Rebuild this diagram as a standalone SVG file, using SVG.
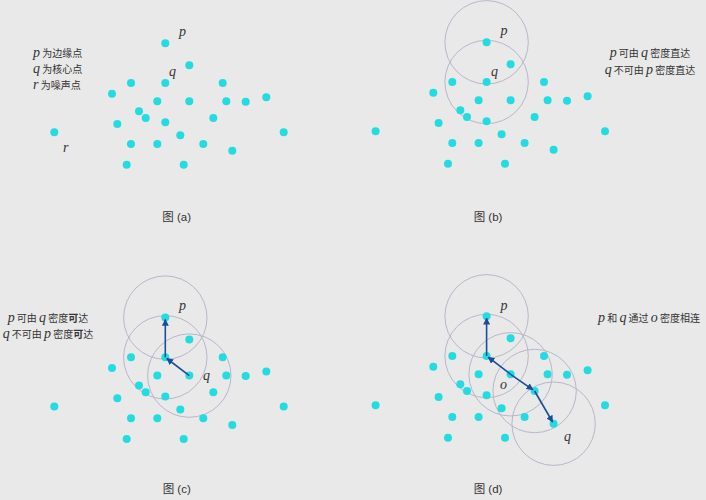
<svg xmlns="http://www.w3.org/2000/svg" xmlns:xlink="http://www.w3.org/1999/xlink" width="706" height="500" viewBox="0 0 706 500">
<style>
.dot{fill:#22dcdf}
.ring{fill:none;stroke:#b7b7cc;stroke-width:1}
.arr{stroke:#1b4c9a;stroke-width:1.6;fill:none;marker-end:url(#ah)}
.m{font-family:"Liberation Serif","DejaVu Serif",serif;font-style:italic;font-size:14px;fill:#333}
.t{font-family:"Noto Sans CJK SC","Noto Sans",sans-serif;font-size:10px;fill:#333}
.cap{font-family:"Liberation Sans","Noto Sans CJK SC",sans-serif;font-size:11.5px;fill:#333;text-anchor:middle}
.b{font-weight:700}
</style>
<defs>
<marker id="ah" viewBox="0 0 10 10" refX="9" refY="5" markerWidth="7" markerHeight="7" markerUnits="userSpaceOnUse" orient="auto">
<path d="M0,0 L10,5 L0,10 z" fill="#1b4c9a"/>
</marker>
<g id="pts">
<circle class="dot" cx="165.3" cy="43.3" r="4"/>
<circle class="dot" cx="189.3" cy="65.3" r="4"/>
<circle class="dot" cx="131" cy="83" r="4"/>
<circle class="dot" cx="165.3" cy="83" r="4"/>
<circle class="dot" cx="222.7" cy="83" r="4"/>
<circle class="dot" cx="112" cy="93.7" r="4"/>
<circle class="dot" cx="157.3" cy="101.3" r="4"/>
<circle class="dot" cx="189.3" cy="101.3" r="4"/>
<circle class="dot" cx="226.3" cy="101.3" r="4"/>
<circle class="dot" cx="245.7" cy="101.7" r="4"/>
<circle class="dot" cx="266.3" cy="97.3" r="4"/>
<circle class="dot" cx="139" cy="111.3" r="4"/>
<circle class="dot" cx="145.7" cy="118" r="4"/>
<circle class="dot" cx="165.3" cy="122.3" r="4"/>
<circle class="dot" cx="213.3" cy="118" r="4"/>
<circle class="dot" cx="117.3" cy="124" r="4"/>
<circle class="dot" cx="54.3" cy="132.3" r="4"/>
<circle class="dot" cx="180.3" cy="135.3" r="4"/>
<circle class="dot" cx="283.7" cy="132.3" r="4"/>
<circle class="dot" cx="131" cy="144" r="4"/>
<circle class="dot" cx="157.3" cy="144" r="4"/>
<circle class="dot" cx="203.3" cy="144" r="4"/>
<circle class="dot" cx="232.3" cy="150.7" r="4"/>
<circle class="dot" cx="126.7" cy="164.7" r="4"/>
<circle class="dot" cx="183.7" cy="164.7" r="4"/>
</g>
</defs>
<rect width="706" height="500" fill="#e9e9e9"/>

<g id="panel-a">
<use xlink:href="#pts" href="#pts"/>
<text class="m" x="179" y="36">p</text>
<text class="m" x="169" y="76">q</text>
<text class="m" x="63" y="152">r</text>
<text class="t" x="33" y="57"><tspan class="m">p</tspan> 为边缘点</text>
<text class="t" x="33" y="73"><tspan class="m">q</tspan> 为核心点</text>
<text class="t" x="33" y="89"><tspan class="m">r</tspan> 为噪声点</text>
<text class="cap" x="176.7" y="220.5">图 (a)</text>
</g>

<g id="panel-b">
<circle class="ring" cx="486.6" cy="42.3" r="41.7"/>
<circle class="ring" cx="486.6" cy="82" r="41.7"/>
<use xlink:href="#pts" href="#pts" transform="translate(321.3,-1)"/>
<text class="m" x="500.5" y="35">p</text>
<text class="m" x="491" y="76">q</text>
<text class="t" x="650" y="57" text-anchor="middle"><tspan class="m">p</tspan> 可由 <tspan class="m">q</tspan> 密度直达</text>
<text class="t" x="650" y="73.5" text-anchor="middle"><tspan class="m">q</tspan> 不可由 <tspan class="m">p</tspan> 密度直达</text>
<text class="cap" x="488" y="220.5">图 (b)</text>
</g>

<g id="panel-c">
<circle class="ring" cx="165.3" cy="317.6" r="41.7"/>
<circle class="ring" cx="165.3" cy="357.3" r="41.7"/>
<circle class="ring" cx="189.3" cy="375.6" r="41.7"/>
<use xlink:href="#pts" href="#pts" transform="translate(0,274.3)"/>
<text class="m" x="179" y="310">p</text>
<text class="m" x="203" y="380">q</text>
<text class="t" x="48" y="321.5" text-anchor="middle"><tspan class="m">p</tspan> 可由 <tspan class="m">q</tspan> 密度<tspan class="b">可</tspan>达</text>
<text class="t" x="48" y="337.5" text-anchor="middle"><tspan class="m">q</tspan> 不可由 <tspan class="m">p</tspan> 密度<tspan class="b">可</tspan>达</text>
<text class="cap" x="176.7" y="493">图 (c)</text>
</g>

<g id="panel-d">
<circle class="ring" cx="486.6" cy="316.3" r="41.7"/>
<circle class="ring" cx="486.6" cy="356" r="41.7"/>
<circle class="ring" cx="510.6" cy="374.3" r="41.7"/>
<circle class="ring" cx="534.6" cy="391" r="41.7"/>
<circle class="ring" cx="553.6" cy="423.7" r="41.7"/>
<use xlink:href="#pts" href="#pts" transform="translate(321.3,273)"/>
<text class="m" x="500.5" y="310">p</text>
<text class="m" x="500" y="388.5">o</text>
<text class="m" x="564" y="441">q</text>
<text class="t" x="649" y="321.5" text-anchor="middle"><tspan class="m">p</tspan> 和 <tspan class="m">q</tspan> 通过 <tspan class="m">o</tspan> 密度相连</text>
<text class="cap" x="488" y="493">图 (d)</text>
</g>

<g id="connectors">
<line class="arr" x1="165.3" y1="357.3" x2="165.3" y2="319.5"/>
<line class="arr" x1="189.3" y1="375.6" x2="166.8" y2="358.5"/>
<line class="arr" x1="486.6" y1="356" x2="486.6" y2="318.2"/>
<line class="arr" x1="510.6" y1="374.3" x2="488.2" y2="357.2"/>
<line class="arr" x1="510.6" y1="374.3" x2="533" y2="389.8"/>
<line class="arr" x1="534.6" y1="391" x2="552.6" y2="422"/>
</g>
</svg>
